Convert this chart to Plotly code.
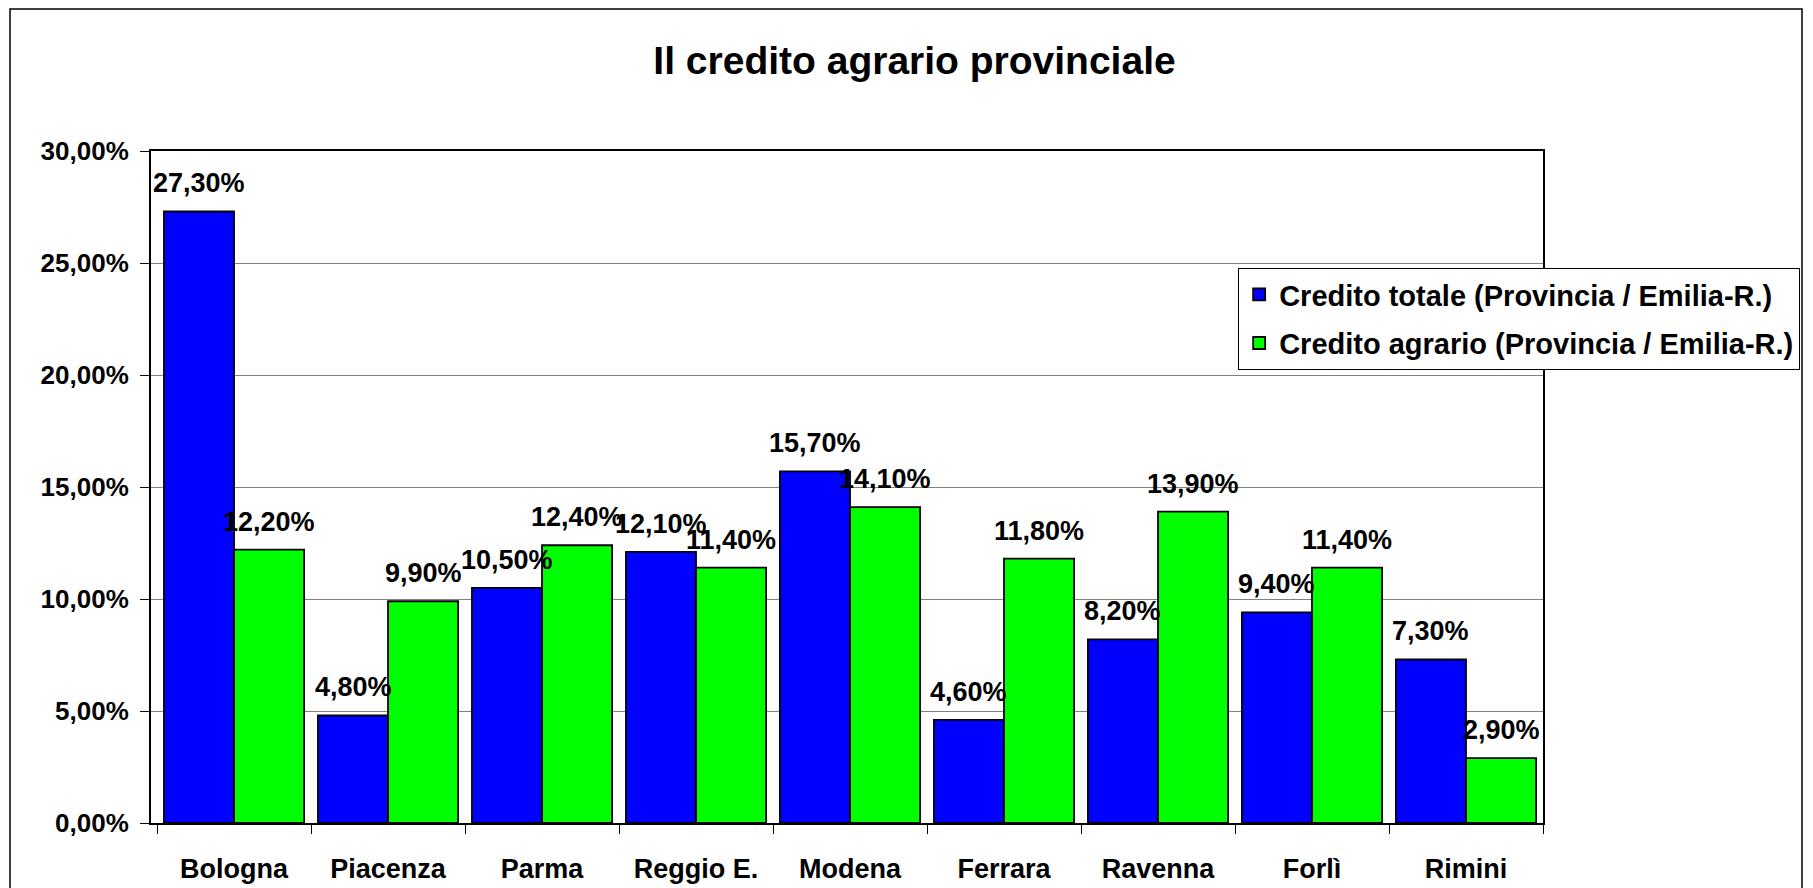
import plotly.graph_objects as go

provinces = ["Bologna", "Piacenza", "Parma", "Reggio E.", "Modena", "Ferrara", "Ravenna", "Forlì", "Rimini"]
credito_totale = [0.273, 0.048, 0.105, 0.121, 0.157, 0.046, 0.082, 0.094, 0.073]
credito_agrario = [0.122, 0.099, 0.124, 0.114, 0.141, 0.118, 0.139, 0.114, 0.029]
series_names = ["Credito totale (Provincia / Emilia-R.)", "Credito agrario (Provincia / Emilia-R.)"]
y_ticks = [0, 0.05, 0.10, 0.15, 0.20, 0.25, 0.30]

FONT = "Liberation Sans, Arial, sans-serif"
BARGAP = 0.09
series = [(series_names[0], credito_totale, "#0000FF", "a"),
          (series_names[1], credito_agrario, "#00FF00", "b")]

fig = go.Figure()
for name, vals, color, grp in series:
    fig.add_trace(go.Bar(
        x=provinces, y=vals, name=name, legendgroup=grp,
        marker=dict(color=color, line=dict(color="black", width=1.8)),
    ))

# data labels above each bar (grouped bar centres derived from bargap)
bar_w = (1 - BARGAP) / len(series)
annotations = []
for s, (name, vals, color, grp) in enumerate(series):
    off = -(1 - BARGAP) / 2 + bar_w * (s + 0.5)
    for i, v in enumerate(vals):
        annotations.append(dict(
            x=i + off, y=v, xref="x", yref="y", text="<b>" + f"{v*100:.2f}".replace(".", ",") + "%</b>",
            showarrow=False, xanchor="center", yanchor="bottom", yshift=11,
            font=dict(family=FONT, size=27, color="black"),
        ))

fig.update_layout(
    width=1813, height=888,
    separators=",.",
    paper_bgcolor="white", plot_bgcolor="white",
    margin=dict(l=143, r=278, t=143, b=73),
    barmode="group", bargap=BARGAP, bargroupgap=0,
    title=dict(text="<b>Il credito agrario provinciale</b>", x=0.5, xref="container",
               y=1 - 52 / 888, yref="container", xanchor="center", yanchor="middle",
               font=dict(family=FONT, size=39, color="black")),
    font=dict(family=FONT, color="black"),
    legend=dict(
        x=0.781, y=0.826, xanchor="left", yanchor="top",
        bgcolor="white", bordercolor="black", borderwidth=1,
        font=dict(family=FONT, size=29, color="black", weight="bold"),
        traceorder="grouped", tracegroupgap=8,
        itemwidth=30,
    ),
    xaxis=dict(
        type="category", tickson="boundaries", ticks="outside", ticklen=9,
        tickcolor="black", tickwidth=1,
        showline=True, linecolor="black", linewidth=2, mirror=True,
        tickfont=dict(family=FONT, size=27, color="black", weight="bold"),
        ticklabelstandoff=21,
        showgrid=False, automargin=False,
    ),
    yaxis=dict(
        range=[0, 0.30], tickvals=y_ticks, tickformat=".2%",
        ticks="outside", ticklen=9, tickcolor="black", tickwidth=1,
        showline=True, linecolor="black", linewidth=2, mirror=True,
        showgrid=True, gridcolor="#808080", gridwidth=1,
        tickfont=dict(family=FONT, size=26, color="black", weight="bold"),
        ticklabelstandoff=6, zeroline=False, automargin=False,
    ),
    annotations=annotations,
    shapes=[dict(type="rect", xref="paper", yref="paper",
                 x0=(2 - 143) / 1392, x1=(1794 - 143) / 1392,
                 y0=-0.3, y1=(815 - 1) / 672,
                 line=dict(color="black", width=1.5), fillcolor="rgba(0,0,0,0)", layer="below")],
)

fig.write_html("out.html")
